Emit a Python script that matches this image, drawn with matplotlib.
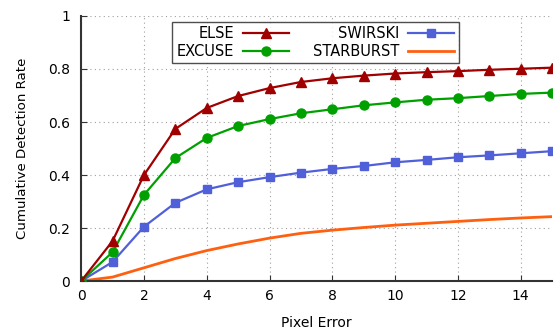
import matplotlib
matplotlib.use("Agg")
import matplotlib.pyplot as plt
from matplotlib.ticker import FormatStrFormatter

pixel_error = list(range(16))
else_rate = [0.0, 0.151, 0.40, 0.574, 0.653, 0.698, 0.728, 0.751, 0.765, 0.775,
             0.783, 0.788, 0.792, 0.797, 0.801, 0.805]
excuse_rate = [0.0, 0.109, 0.325, 0.464, 0.540, 0.585, 0.611, 0.633, 0.648, 0.663,
               0.674, 0.684, 0.690, 0.698, 0.706, 0.711]
swirski_rate = [0.0, 0.072, 0.205, 0.295, 0.346, 0.373, 0.392, 0.409, 0.423, 0.434,
                0.448, 0.457, 0.467, 0.474, 0.482, 0.490]
starburst_rate = [0.0, 0.015, 0.050, 0.085, 0.115, 0.140, 0.162, 0.180, 0.192, 0.202,
                  0.211, 0.218, 0.225, 0.232, 0.238, 0.243]

plt.rcParams['font.family'] = ['DejaVu Sans']

fig = plt.figure(figsize=(5.56, 3.33), dpi=100)
ax = fig.add_axes([0.146, 0.156, 0.847, 0.796])

ax.plot(pixel_error, else_rate, color="#a00000", marker="^", markersize=6.5, lw=1.6, label="ELSE", zorder=5)
ax.plot(pixel_error, excuse_rate, color="#00a000", marker="o", markersize=6.5, lw=1.6, label="EXCUSE", zorder=4)
ax.plot(pixel_error, swirski_rate, color="#5060d8", marker="s", markersize=6, lw=1.6, label="SWIRSKI", zorder=3)
ax.plot(pixel_error, starburst_rate, color="#ff6010", lw=2.0, label="STARBURST", zorder=2)

ax.set_xlim(0, 15)
ax.set_ylim(0, 1)
ax.set_xticks(range(0, 16, 2))
ax.set_yticks([0, 0.2, 0.4, 0.6, 0.8, 1.0])
ax.yaxis.set_major_formatter(FormatStrFormatter("%g"))
ax.tick_params(direction="in", length=4, labelsize=10, color="#333333")
ax.tick_params(axis="x", pad=6)
ax.tick_params(axis="y", pad=8)
ax.grid(True, linestyle=(0, (1, 3)), color="#a0a0a0", lw=0.8)
for side in ("top", "right"):
    ax.spines[side].set_visible(False)
for side in ("left", "bottom"):
    ax.spines[side].set_color("#333333")
    ax.spines[side].set_linewidth(1.5)

ax.set_xlabel("Pixel Error", fontsize=10, labelpad=9)
ax.set_ylabel("Cumulative Detection Rate", fontsize=9.6, labelpad=14)

leg = ax.legend(ncol=2, markerfirst=False, loc="upper left", bbox_to_anchor=(0.193, 0.977),
                borderaxespad=0, fontsize=10.5, frameon=True, fancybox=False,
                edgecolor="#222222", handlelength=3.2, columnspacing=1.6,
                borderpad=0.3, labelspacing=0.15, handletextpad=0.6)
leg.get_frame().set_linewidth(1.0)

fig.savefig("out.png", dpi=100)
